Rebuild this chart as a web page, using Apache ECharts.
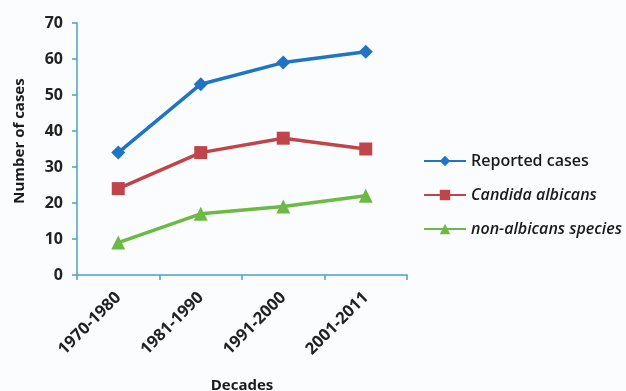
<!DOCTYPE html>
<html>
<head>
<meta charset="utf-8">
<script src="https://cdn.jsdelivr.net/npm/echarts@6/dist/echarts.min.js"></script>
<style>
html,body{margin:0;padding:0;background:#fbfcfd;}
#c{width:626px;height:391px;}
</style>
</head>
<body>
<div id="c"></div>
<script>
var categories = ['1970-1980', '1981-1990', '1991-2000', '2001-2011'];
var reported = [34, 53, 59, 62];
var candida = [24, 34, 38, 35];
var nonAlbicans = [9, 17, 19, 22];
var seriesNames = ['Reported cases', 'Candida albicans', 'non-albicans species'];

var FONT = '"Open Sans", "Liberation Sans", sans-serif';
var chart = echarts.init(document.getElementById('c'));
chart.setOption({
  backgroundColor: '#fbfcfd',
  animation: false,
  grid: {left: 77, right: 219, top: 23, bottom: 116, containLabel: false, outerBoundsMode: 'none'},
  legend: {
    orient: 'vertical',
    left: 418,
    top: 148,
    itemWidth: 42,
    itemHeight: 13,
    itemGap: 18,
    data: seriesNames,
    formatter: function (n) {
      return n === 'Reported cases' ? '{n|' + n + '}' : '{i|' + n + '}';
    },
    textStyle: {
      rich: {
        n: {fontFamily: FONT, fontSize: 16, fontWeight: 600, color: '#1a1a1a'},
        i: {fontFamily: FONT, fontSize: 16, fontWeight: 600, fontStyle: 'italic', color: '#1a1a1a'}
      }
    }
  },
  xAxis: {
    type: 'category',
    data: categories,
    boundaryGap: true,
    name: 'Decades',
    nameLocation: 'middle',
    nameGap: 103,
    nameTextStyle: {fontFamily: FONT, fontWeight: 'bold', fontSize: 15, color: '#1a1a1a'},
    axisLine: {lineStyle: {color: '#4e9ec9', width: 1.5}},
    axisTick: {show: true, length: 5, lineStyle: {color: '#4e9ec9', width: 1.5}},
    axisLabel: {rotate: 45, margin: 20, fontFamily: FONT, fontWeight: 'bold', fontSize: 16.5, color: '#222'},
    splitLine: {show: false}
  },
  yAxis: {
    type: 'value',
    min: 0, max: 70, interval: 10,
    name: 'Number of cases',
    nameLocation: 'middle',
    nameGap: 50,
    nameRotate: 90,
    nameTextStyle: {fontFamily: FONT, fontWeight: 'bold', fontSize: 15, color: '#1a1a1a', padding: [0, 0, 0, 16]},
    axisLine: {show: true, lineStyle: {color: '#4e9ec9', width: 1.5}},
    axisTick: {show: true, length: 5, lineStyle: {color: '#4e9ec9', width: 1.5}},
    axisLabel: {margin: 14, fontFamily: FONT, fontWeight: 'bold', fontSize: 16, color: '#222'},
    splitLine: {show: false}
  },
  series: [
    {name: seriesNames[0], type: 'line', data: reported, symbol: 'diamond', symbolSize: 14,
     lineStyle: {color: '#1f74c6', width: 3.5}, itemStyle: {color: '#1f74c6'}},
    {name: seriesNames[1], type: 'line', data: candida, symbol: 'rect', symbolSize: 13,
     lineStyle: {color: '#c0454a', width: 3.5}, itemStyle: {color: '#c0454a'}},
    {name: seriesNames[2], type: 'line', data: nonAlbicans, symbol: 'triangle', symbolSize: 14,
     lineStyle: {color: '#6cba45', width: 3.5}, itemStyle: {color: '#6cba45'}}
  ]
});
</script>
</body>
</html>
